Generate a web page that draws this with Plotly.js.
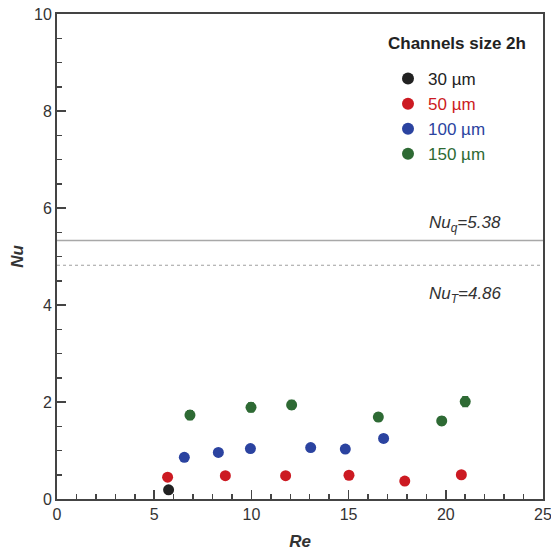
<!DOCTYPE html>
<html>
<head>
<meta charset="utf-8">
<script src="https://cdn.plot.ly/plotly-3.0.1.min.js"></script>
<style>html,body{margin:0;padding:0;background:#fff;}#chart{width:551px;height:554px;}</style>
</head>
<body>
<div id="chart"></div>
<script>
// Data
const seriesNames = ["30 µm", "50 µm", "100 µm", "150 µm"];
const seriesColors = ["#222222", "#cc1a22", "#2b43a0", "#2e6a34"];

const re30 = [5.74];
const nu30 = [0.19];
const err30 = [0.0];

const re50 = [5.69, 8.66, 11.76, 15.02, 17.89, 20.8];
const nu50 = [0.45, 0.48, 0.48, 0.49, 0.37, 0.50];
const err50 = [0.02, 0.02, 0.02, 0.02, 0.02, 0.02];

const re100 = [6.55, 8.3, 9.95, 13.05, 14.83, 16.8];
const nu100 = [0.86, 0.96, 1.04, 1.06, 1.03, 1.25];
const err100 = [0.03, 0.03, 0.03, 0.03, 0.03, 0.06];

const re150 = [6.84, 9.98, 12.07, 16.53, 19.79, 21.0];
const nu150 = [1.73, 1.89, 1.94, 1.69, 1.61, 2.01];
const err150 = [0.08, 0.08, 0.08, 0.07, 0.07, 0.09];

const refLevels = [5.33, 4.82];
const refLabels = ["<i>Nu<sub>q</sub>=5.38</i>", "<i>Nu<sub>T</sub>=4.86</i>"];
const refDash = ["solid", "dot"];
const legendTitle = "<b>Channels size 2h</b>";

const xRange = [0, 25];
const yRange = [0, 10];

const allRe = [re30, re50, re100, re150];
const allNu = [nu30, nu50, nu100, nu150];
const allErr = [err30, err50, err100, err150];

const FONT = "Liberation Sans, Arial, sans-serif";

const traces = allRe.map((xs, i) => ({
  type: "scatter",
  mode: "markers",
  x: xs,
  y: allNu[i],
  name: '<span style="color:' + seriesColors[i] + '">' + seriesNames[i] + '</span>',
  legendgroup: "g" + i,
  marker: {color: seriesColors[i], size: 11},
  error_y: {type: "data", array: allErr[i], visible: true, color: seriesColors[i], thickness: 2.5, width: 3},
  cliponaxis: false
}));

const shapes = refLevels.map((v, i) => ({
  type: "line", xref: "paper", x0: 0, x1: 1, yref: "y", y0: v, y1: v,
  line: {color: i === 0 ? "#a8a8a8" : "#a0a0a0", width: i === 0 ? 1.5 : 1.2, dash: refDash[i]}
}));

const annotations = [
  {xref: "paper", yref: "y", x: 0.762, y: refLevels[0] + 0.35, xanchor: "left", yanchor: "middle",
   text: refLabels[0], showarrow: false, font: {family: FONT, size: 17, color: "#333"}},
  {xref: "paper", yref: "y", x: 0.762, y: refLevels[1] - 0.62, xanchor: "left", yanchor: "middle",
   text: refLabels[1], showarrow: false, font: {family: FONT, size: 17, color: "#333"}},
  {xref: "paper", yref: "paper", x: (386 - 57) / 486, y: 1 - (43 - 14) / 485, xanchor: "left", yanchor: "middle",
   text: legendTitle, showarrow: false, font: {family: FONT, size: 17, color: "#222"}}
];

const axisFont = {family: FONT, size: 16, color: "#333"};

const layout = {
  width: 551, height: 554,
  margin: {l: 57, r: 8, t: 14, b: 55},
  paper_bgcolor: "#fff", plot_bgcolor: "#fff",
  showlegend: true,
  legend: {
    x: (388 - 57) / 486, y: 1 - (61 - 14) / 485, xanchor: "left", yanchor: "top",
    bgcolor: "rgba(0,0,0,0)",
    font: {family: FONT, size: 17, color: "#333"},
    itemsizing: "constant",
    tracegroupgap: 0
  },
  xaxis: {
    range: xRange, dtick: 5, tick0: 0,
    showgrid: false, zeroline: false,
    showline: true, linecolor: "#444", linewidth: 2, mirror: true,
    ticks: "inside", ticklen: 9, tickwidth: 1.5, tickcolor: "#444",
    minor: {ticks: "inside", dtick: 1, ticklen: 5, tickwidth: 1.5, tickcolor: "#444", showgrid: false},
    tickfont: axisFont,
    ticklabeloverflow: "allow",
    title: {text: "<b><i>Re</i></b>", font: {family: FONT, size: 17, color: "#333"}, standoff: 13}
  },
  yaxis: {
    range: yRange, dtick: 2, tick0: 0,
    showgrid: false, zeroline: false,
    showline: true, linecolor: "#444", linewidth: 2, mirror: true,
    ticks: "inside", ticklen: 9, tickwidth: 1.5, tickcolor: "#444",
    minor: {ticks: "inside", dtick: 0.5, ticklen: 5, tickwidth: 1.5, tickcolor: "#444", showgrid: false},
    tickfont: axisFont,
    ticklabeloverflow: "allow",
    title: {text: "<b><i>Nu</i></b>", font: {family: FONT, size: 17, color: "#333"}, standoff: 6}
  },
  shapes: shapes,
  annotations: annotations
};

Plotly.newPlot("chart", traces, layout, {staticPlot: true, displayModeBar: false});
</script>
</body>
</html>
